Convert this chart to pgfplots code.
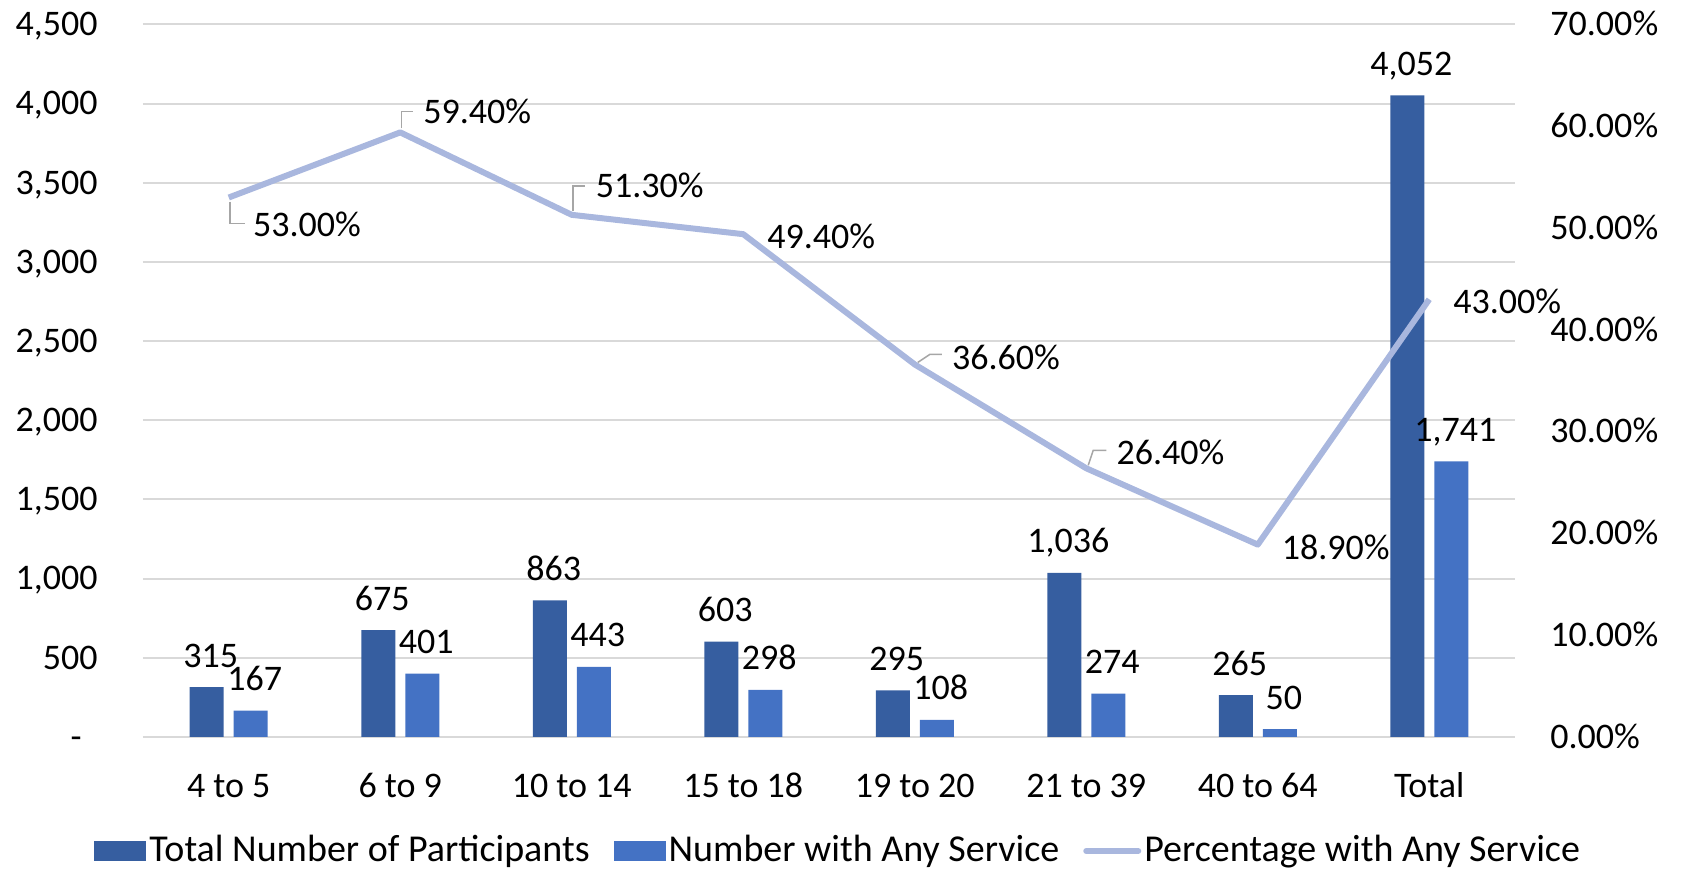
\documentclass[border=0pt]{standalone}
\usepackage{fontspec}
\setmainfont{Carlito}
\usepackage{pgfplots}
\pgfplotsset{compat=1.18}
\definecolor{darkbar}{HTML}{365EA0}
\definecolor{lightbar}{HTML}{4472C4}
\definecolor{linec}{HTML}{A9B7DE}
\definecolor{gridc}{HTML}{D9D9D9}
\definecolor{leader}{HTML}{A6A6A6}
\newcommand{\cf}{\fontsize{18}{21}\selectfont}
\newcommand{\lf}{\fontsize{19}{22}\selectfont}
\begin{document}
\cf
\begin{tikzpicture}[font=\cf]
\useasboundingbox (0,0) rectangle (840.5pt,436pt);
\begin{axis}[
  at={(71.5pt,67.5pt)}, anchor=south west,
  scale only axis, width=686pt, height=356.25pt,
  xmin=-0.5, xmax=7.5, ymin=0, ymax=4500,
  ybar=5pt, bar width=17pt,
  axis line style={draw=none},
  major tick length=0pt,
  ymajorgrids, grid style={draw=gridc, line width=1pt},
  xtick={0,...,7},
  xticklabels={4 to 5, 6 to 9, 10 to 14, 15 to 18, 19 to 20, 21 to 39, 40 to 64, Total},
  xticklabel style={anchor=base, inner sep=0pt, yshift=-30.3pt, font=\cf},
  ytick={0,500,...,4500},
  yticklabels={{-\kern8pt},500,{1,000},{1,500},{2,000},{2,500},{3,000},{3,500},{4,000},{4,500}},
  yticklabel style={anchor=base east, inner sep=0pt, xshift=-22.5pt, yshift=-5.6pt, font=\cf},
  /pgf/number format/assume math mode=true,
  /pgf/number format/1000 sep={,},
  nodes near coords,
  nodes near coords style={font=\cf, anchor=base, inner sep=0pt, yshift=10pt, xshift=2pt, text=black},
  clip=false,
  legend columns=3,
  legend style={at={(0.507,-0.1600)}, anchor=center, draw=none, fill=none, font=\lf,
    inner sep=0pt, nodes={inner sep=1.5pt},
    /tikz/every even column/.append style={column sep=10.5pt}},
  legend cell align=left,
]
\addplot[fill=darkbar, draw=none,
  legend image code/.code={\fill[darkbar] (0pt,-5pt) rectangle (26pt,5pt);}]
  coordinates {(0,315) (1,675) (2,863) (3,603) (4,295) (5,1036) (6,265) (7,4052)};
\addlegendentry{Total Number of Participants}
\addplot[fill=lightbar, draw=none,
  legend image code/.code={\fill[lightbar] (0pt,-5pt) rectangle (26pt,5pt);}]
  coordinates {(0,167) (1,401) (2,443) (3,298) (4,108) (5,274) (6,50) (7,1741)};
\addlegendentry{Number with Any Service}
\addlegendimage{legend image code/.code={\draw[linec, line width=3pt, line cap=round] (1pt,0pt) -- (27pt,0pt);}}
\addlegendentry{Percentage with Any Service}
\end{axis}
\begin{axis}[
  at={(71.5pt,67.5pt)}, anchor=south west,
  scale only axis, width=686pt, height=356.25pt,
  xmin=-0.5, xmax=7.5, ymin=0, ymax=70,
  axis y line*=right, axis x line=none,
  axis line style={draw=none},
  major tick length=0pt,
  ytick={0,10,...,70},
  yticklabels={0.00\%,10.00\%,20.00\%,30.00\%,40.00\%,50.00\%,60.00\%,70.00\%},
  yticklabel style={anchor=base west, inner sep=0pt, xshift=17.5pt, yshift=-5.6pt, font=\cf},
  clip=false,
]
\addplot[color=linec, line width=3pt, line join=round, mark=none]
  coordinates {(0,53) (1,59.4) (2,51.3) (3,49.4) (4,36.6) (5,26.4) (6,18.9) (7,43)};
% leader lines
\draw[leader, line width=0.75pt] (axis cs:0,53) ++(0.5pt,-2pt) -- ++(0pt,-11pt) -- ++(7.5pt,0pt);
\draw[leader, line width=0.75pt] (axis cs:1,59.4) ++(0.5pt,2pt) -- ++(0pt,8.5pt) -- ++(6pt,0pt);
\draw[leader, line width=0.75pt] (axis cs:2,51.3) ++(0.5pt,2pt) -- ++(0pt,12.5pt) -- ++(6pt,0pt);
\draw[leader, line width=0.75pt] (axis cs:4,36.6) ++(1.5pt,1pt) -- ++(6pt,4pt) -- ++(6pt,0pt);
\draw[leader, line width=0.75pt] (axis cs:5,26.4) ++(1pt,1.5pt) -- ++(2.5pt,7.5pt) -- ++(6.5pt,0pt);
% labels
\node[anchor=west, inner sep=0pt, font=\cf] at (axis cs:0,53) [xshift=12pt, yshift=-13.4pt] {53.00\%};
\node[anchor=west, inner sep=0pt, font=\cf] at (axis cs:1,59.4) [xshift=11.3pt, yshift=10.7pt] {59.40\%};
\node[anchor=west, inner sep=0pt, font=\cf] at (axis cs:2,51.3) [xshift=11.8pt, yshift=14.5pt] {51.30\%};
\node[anchor=west, inner sep=0pt, font=\cf] at (axis cs:3,49.4) [xshift=11.8pt, yshift=-1pt] {49.40\%};
\node[anchor=west, inner sep=0pt, font=\cf] at (axis cs:4,36.6) [xshift=18.5pt, yshift=3.5pt] {36.60\%};
\node[anchor=west, inner sep=0pt, font=\cf] at (axis cs:5,26.4) [xshift=15pt, yshift=8pt] {26.40\%};
\node[anchor=west, inner sep=0pt, font=\cf] at (axis cs:6,18.9) [xshift=11.8pt, yshift=-1.6pt] {18.90\%};
\node[anchor=west, inner sep=0pt, font=\cf] at (axis cs:7,43) [xshift=11.8pt, yshift=-1pt] {43.00\%};
\end{axis}
\end{tikzpicture}
\end{document}
